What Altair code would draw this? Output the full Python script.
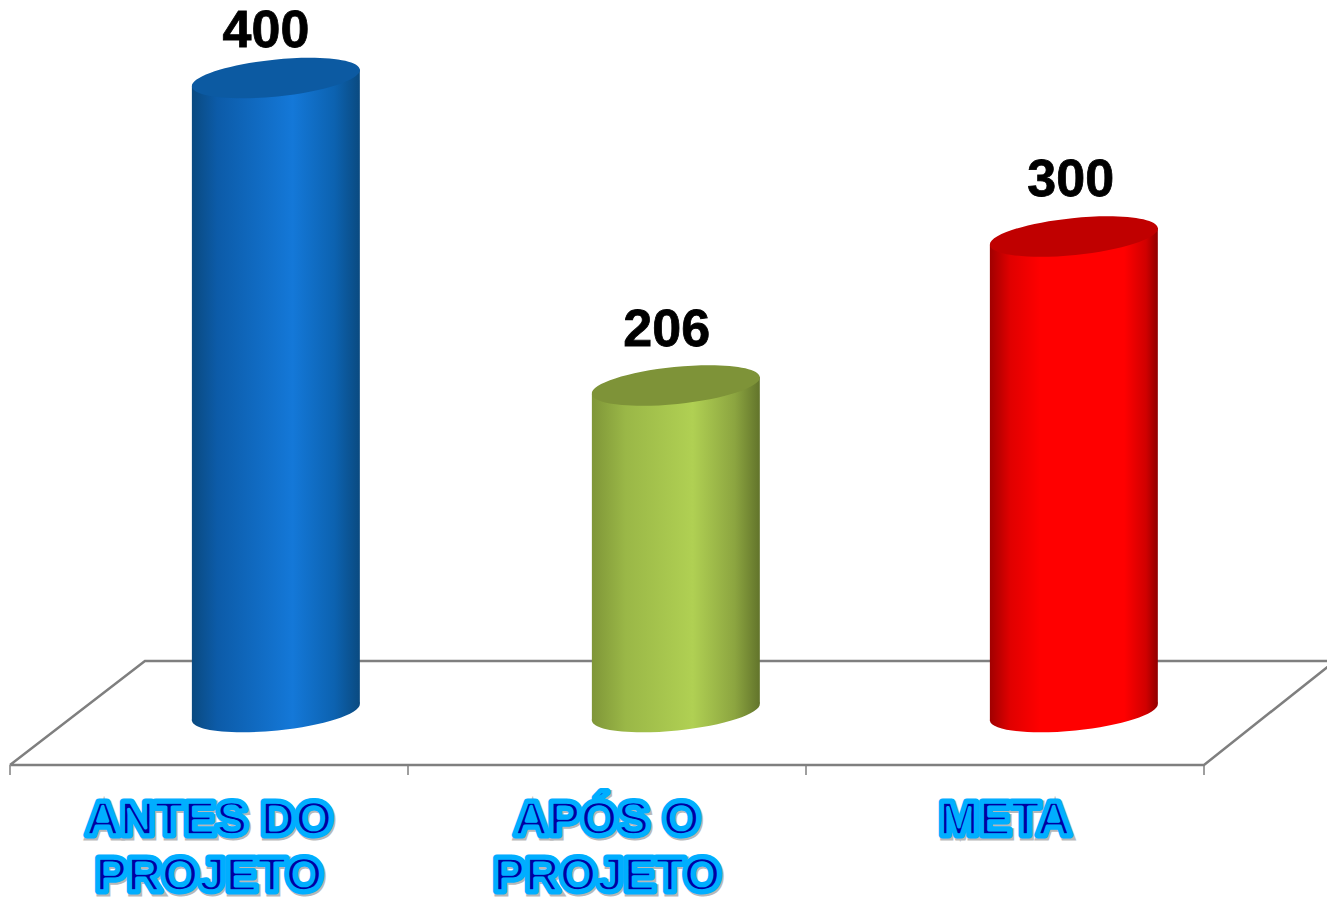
import altair as alt
import pandas as pd

categories = ["ANTES DO|PROJETO", "APÓS O|PROJETO", "META"]
values = [400, 206, 300]
value_labels = ["400", "206", "300"]
label_heights = [429.7, 241, 335.6]
label_x = [0.643, 1.650, 2.665]
centers = [0.668, 1.673, 2.673]
half_width = 0.211
tilt = 5.4
category_x = [0.5, 1.5, 2.5]
category_y = [-53.6, -53.6, -53.6]

edge_stops = [
    [(0, "#0A4A80"), (0.15, "#0C5BA8"), (0.6, "#1478D8"), (0.85, "#0C62B0"), (1, "#0A4A80")],
    [(0, "#7F9638"), (0.2, "#9AB747"), (0.6, "#B0D053"), (0.85, "#8CA540"), (1, "#62742B")],
    [(0, "#A00000"), (0.12, "#E00000"), (0.3, "#FF0000"), (0.8, "#FF0000"), (0.93, "#D00000"), (1, "#900000")],
]
top_colors = ["#0C5AA2", "#7E9338", "#C00000"]

floor_x = [0, 0.339, 3.329, 3, 0]
floor_y = [-33.4, 32.2, 32.2, -33.4, -33.4]
tick_values = [0, 1, 2, 3]
tick_top = -33.4
tick_bottom = -39.7

WIDTH, HEIGHT = 1319, 892
x_scale = alt.Scale(domain=[-2 / 398, 1317 / 398], nice=False, zero=False)
y_scale = alt.Scale(domain=[-118.6, 444.2], nice=False, zero=False)
X = lambda f="x": alt.X(f"{f}:Q", scale=x_scale, title=None, axis=None)
Y = lambda f="y": alt.Y(f"{f}:Q", scale=y_scale, title=None, axis=None)

ELLIPSE = "M-1,0.101 A1.005,0.22,-5.8,0,1,1,-0.101 A1.005,0.22,-5.8,0,1,-1,0.101 Z"
SIZE = 168 ** 2


def gradient(stops):
    return alt.Gradient(
        gradient="linear", x1=0, y1=0, x2=1, y2=0,
        stops=[alt.GradientStop(offset=o, color=c) for o, c in stops],
    )


floor = alt.Chart(pd.DataFrame({"x": floor_x, "y": floor_y, "o": range(len(floor_x))})).mark_line(
    color="#7F7F7F", strokeWidth=2.5, clip=False
).encode(x=X(), y=Y(), order="o:Q")

ticks = alt.Chart(pd.DataFrame({
    "x": tick_values,
    "y": [tick_top] * len(tick_values),
    "y2": [tick_bottom] * len(tick_values),
})).mark_rule(color="#7F7F7F", strokeWidth=1.5).encode(x=X(), y=Y(), y2="y2:Q")

layers = [floor, ticks]
for i, v in enumerate(values):
    c = centers[i]
    body = pd.DataFrame({
        "x": [c - half_width, c + half_width],
        "y": [v + -tilt, v + tilt],
        "y0": [-tilt, tilt],
    })
    pt = pd.DataFrame({"x": [c], "top": [v], "base": [0]})
    layers.append(
        alt.Chart(pt).mark_point(shape=ELLIPSE, size=SIZE, filled=True, opacity=1,
                                 fill=gradient(edge_stops[i]), strokeWidth=0)
        .encode(x=X(), y=Y("base"))
    )
    layers.append(
        alt.Chart(body).mark_area(fill=gradient(edge_stops[i]), clip=False)
        .encode(x=X(), y=Y(), y2="y0:Q")
    )
    layers.append(
        alt.Chart(pt).mark_point(shape=ELLIPSE, size=SIZE, filled=True, opacity=1,
                                 fill=top_colors[i], strokeWidth=0)
        .encode(x=X(), y=Y("top"))
    )

labels_df = pd.DataFrame({"x": label_x, "y": label_heights, "t": value_labels})
layers.append(
    alt.Chart(labels_df).mark_text(
        font="Liberation Sans", fontWeight="bold", fontSize=52, color="#000000",
        stroke="#000000", strokeWidth=0.8, baseline="middle", align="center",
    ).encode(x=X(), y=Y(), text="t:N")
)

cats_df = pd.DataFrame({"x": category_x, "y": category_y, "t": categories})
text_base = dict(font="Liberation Sans", fontWeight="bold", fontSize=47.8, baseline="top",
                 align="center", lineBreak="|", lineHeight=56)
for extra in [
    dict(stroke="#8A8A8A", strokeWidth=7, fill="#8A8A8A", dx=1.5, dy=2.5, opacity=0.6),
    dict(stroke="#00AEFF", strokeWidth=7, fill="#00AEFF", strokeJoin="round"),
    dict(stroke="#00AEFF", strokeWidth=3.6, fill="#0000A0", strokeJoin="round"),
]:
    layers.append(
        alt.Chart(cats_df).mark_text(**text_base, **extra).encode(x=X(), y=Y(), text="t:N")
    )

chart = (
    alt.layer(*layers)
    .properties(width=WIDTH, height=HEIGHT, padding=0, background="#FFFFFF",
                autosize=alt.AutoSizeParams(type="none"))
    .configure_view(stroke=None)
)
chart.save("out.html", embed_options={"renderer": "svg", "actions": False})
